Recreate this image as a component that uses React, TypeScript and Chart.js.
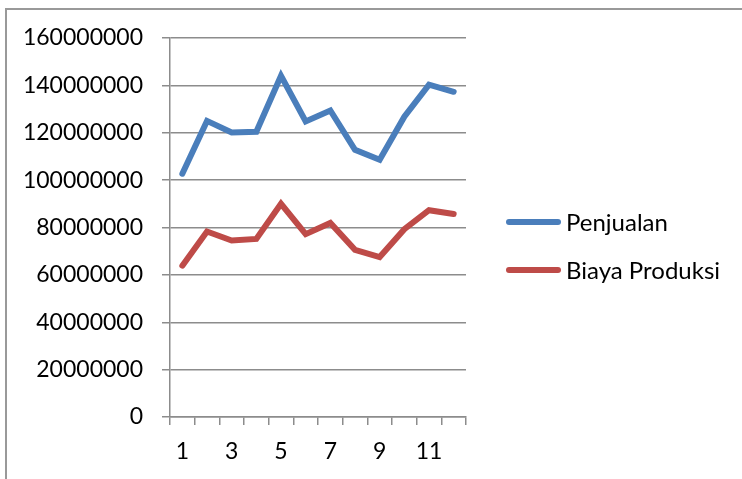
import React, { useEffect, useRef } from "react";
import { Chart, registerables } from "chart.js";

Chart.register(...registerables);

// Monthly figures (1..12)
const months = ["1", "2", "3", "4", "5", "6", "7", "8", "9", "10", "11", "12"];
const penjualan = [
  102700000, 125000000, 120100000, 120400000, 144000000, 124800000,
  129400000, 112800000, 108600000, 126800000, 140300000, 137300000,
];
const biayaProduksi = [
  63900000, 78300000, 74500000, 75200000, 90000000, 77200000,
  81900000, 70600000, 67500000, 79300000, 87300000, 85700000,
];
const seriesNames = ["Penjualan", "Biaya Produksi"];
const seriesColors = ["#4a7ebb", "#be4b48"];

const FONT = "Lato, 'Open Sans', 'DejaVu Sans', sans-serif";
const GRID = "#8c8c8c";

// Legend to the right of the plot: a short thick stroke then the series name
const sideLegend = {
  id: "sideLegend",
  afterDraw(chart: any) {
    const { ctx } = chart;
    ctx.save();
    chart.data.datasets.forEach((ds: any, i: number) => {
      const y = 222 + i * 48;
      ctx.strokeStyle = ds.borderColor;
      ctx.lineWidth = 6;
      ctx.lineCap = "round";
      ctx.beginPath();
      ctx.moveTo(509, y);
      ctx.lineTo(558, y);
      ctx.stroke();
      ctx.fillStyle = "#000";
      ctx.font = `24px ${FONT}`;
      ctx.textAlign = "left";
      ctx.textBaseline = "middle";
      ctx.fillText(ds.label, 566, y + 1);
    });
    ctx.restore();
  },
};

export default function App() {
  const canvasRef = useRef<HTMLCanvasElement | null>(null);

  useEffect(() => {
    if (!canvasRef.current) return;
    const chart = new Chart(canvasRef.current, {
      type: "line",
      data: {
        labels: months,
        datasets: [
          {
            label: seriesNames[0],
            data: penjualan,
            borderColor: seriesColors[0],
            backgroundColor: seriesColors[0],
            borderWidth: 6,
            pointRadius: 0,
            borderCapStyle: "round",
            borderJoinStyle: "miter",
            tension: 0,
          },
          {
            label: seriesNames[1],
            data: biayaProduksi,
            borderColor: seriesColors[1],
            backgroundColor: seriesColors[1],
            borderWidth: 6,
            pointRadius: 0,
            borderCapStyle: "round",
            borderJoinStyle: "miter",
            tension: 0,
          },
        ],
      },
      options: {
        animation: false,
        responsive: false,
        maintainAspectRatio: false,
        devicePixelRatio: 1,
        layout: { padding: { top: 38, right: 276, bottom: 0, left: 0 } },
        plugins: {
          legend: { display: false },
          tooltip: { enabled: false },
        },
        scales: {
          x: {
            type: "category",
            offset: true,
            afterFit(scale: any) {
              scale.height = 62;
            },
            grid: {
              offset: true,
              drawOnChartArea: false,
              drawTicks: true,
              tickLength: 8,
              color: GRID,
              lineWidth: 1.5,
            },
            border: { color: GRID, width: 1.5 },
            ticks: {
              autoSkip: false,
              maxRotation: 0,
              padding: 13,
              color: "#000",
              font: { family: FONT, size: 23 },
              callback: (_v: any, i: number) => (i % 2 === 0 ? months[i] : ""),
            },
          },
          y: {
            min: 0,
            max: 160000000,
            afterFit(scale: any) {
              scale.width = 170;
            },
            grid: {
              color: GRID,
              lineWidth: 1.5,
              tickLength: 8,
            },
            border: { color: GRID, width: 1.5 },
            ticks: {
              stepSize: 20000000,
              padding: 19,
              color: "#000",
              font: { family: FONT, size: 23 },
              callback: (v: any) => String(v),
            },
          },
        },
      },
      plugins: [sideLegend],
    });
    return () => chart.destroy();
  }, []);

  return (
    <div style={{ position: "fixed", left: 0, top: 0, width: 742, height: 479, background: "#fff", overflow: "hidden" }}>
      <canvas ref={canvasRef} width={742} height={479} style={{ position: "absolute", left: 0, top: 0, width: 742, height: 479 }} />
      <div
        style={{
          position: "absolute",
          left: 5,
          top: 8,
          width: 760,
          height: 500,
          borderLeft: "2px solid #999",
          borderTop: "2px solid #999",
          pointerEvents: "none",
        }}
      />
    </div>
  );
}
